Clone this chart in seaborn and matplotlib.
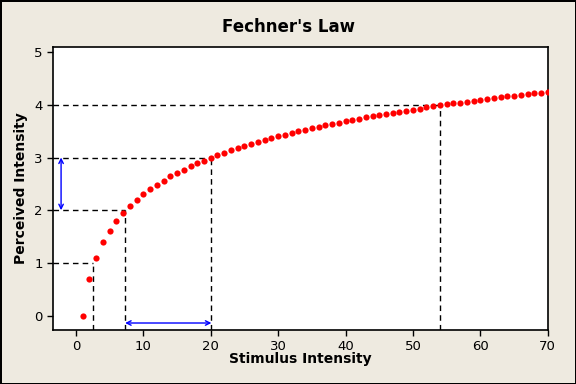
import matplotlib
matplotlib.use("Agg")
import matplotlib.pyplot as plt
import seaborn as sns
import pandas as pd

# Stimulus intensity 1..70 and perceived intensity
stimulus = list(range(1, 71))
perceived = [
    0.00, 0.69, 1.10, 1.39, 1.61, 1.79, 1.95, 2.08, 2.20, 2.30,
    2.40, 2.48, 2.56, 2.64, 2.71, 2.77, 2.83, 2.89, 2.94, 3.00,
    3.04, 3.09, 3.14, 3.18, 3.22, 3.26, 3.30, 3.33, 3.37, 3.40,
    3.43, 3.47, 3.50, 3.53, 3.56, 3.58, 3.61, 3.64, 3.66, 3.69,
    3.71, 3.74, 3.76, 3.78, 3.81, 3.83, 3.85, 3.87, 3.89, 3.91,
    3.93, 3.95, 3.97, 3.99, 4.01, 4.03, 4.04, 4.06, 4.08, 4.09,
    4.11, 4.13, 4.14, 4.16, 4.17, 4.19, 4.20, 4.22, 4.23, 4.25,
]

# Reference guide levels and where they meet the curve
guide_levels = [1, 2, 3, 4]
guide_x = [2.5, 7.3, 20.1, 54.0]

xticks = [0, 10, 20, 30, 40, 50, 60, 70]
yticks = [0, 1, 2, 3, 4, 5]

bg = "#EEEAE0"

sns.set_style("ticks")
plt.rcParams["font.family"] = ["DejaVu Sans"]
plt.rcParams["text.color"] = "black"
plt.rcParams["axes.labelcolor"] = "black"

fig = plt.figure(figsize=(5.76, 3.84), dpi=100)
fig.patch.set_facecolor(bg)
fig.patch.set_edgecolor("black")
fig.patch.set_linewidth(2)
ax = fig.add_axes([0.092, 0.141, 0.859, 0.737])
ax.set_facecolor("white")

df = pd.DataFrame({"Stimulus Intensity": stimulus, "Perceived Intensity": perceived})

xmin, xmax = -3.4, 70
ymin, ymax = -0.27, 5.1

# dashed guide lines
for lvl, gx in zip(guide_levels, guide_x):
    ax.plot([xmin, gx], [lvl, lvl], ls=(0, (4, 3)), color="black", lw=1, zorder=1)
    ax.plot([gx, gx], [ymin, lvl], ls=(0, (4, 3)), color="black", lw=1, zorder=1)

sns.scatterplot(data=df, x="Stimulus Intensity", y="Perceived Intensity", ax=ax,
                color="red", edgecolor="red", s=20, linewidth=0, zorder=3)

# blue double arrows
ax.annotate("", xy=(-2.2, 3), xytext=(-2.2, 2),
            arrowprops=dict(arrowstyle="<->", color="blue", lw=1, mutation_scale=8,
                            shrinkA=0, shrinkB=0))
ax.annotate("", xy=(guide_x[2], -0.14), xytext=(guide_x[1], -0.14),
            arrowprops=dict(arrowstyle="<->", color="blue", lw=1, mutation_scale=8,
                            shrinkA=0, shrinkB=0))

ax.set_xlim(xmin, xmax)
ax.set_ylim(ymin, ymax)
ax.set_xticks(xticks)
ax.set_yticks(yticks)
ax.tick_params(labelsize=9.5, length=4, width=1, colors="black")
for s in ax.spines.values():
    s.set_visible(True)
    s.set_color("black")
    s.set_linewidth(1.2)

ax.set_xlabel("Stimulus Intensity", fontsize=10, fontweight="bold")
ax.set_ylabel("Perceived Intensity", fontsize=10, fontweight="bold")
ax.xaxis.set_label_coords(0.5, -0.078)
ax.yaxis.set_label_coords(-0.05, 0.5)
fig.suptitle("Fechner's Law", fontsize=12, fontweight="bold", y=0.952)

fig.savefig("out.png", dpi=100, facecolor=bg, edgecolor="black")
